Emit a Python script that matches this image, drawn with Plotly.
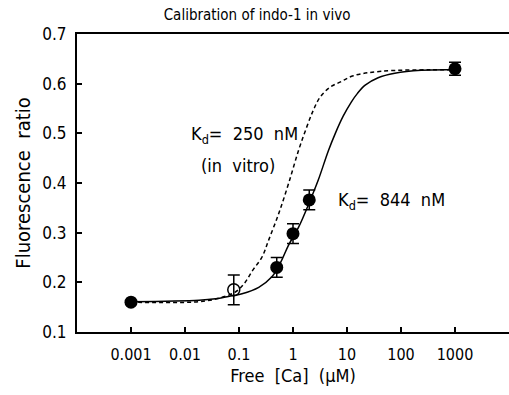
import plotly.graph_objects as go

# Data
ca_points = [0.001, 0.5, 1.0, 2.0, 1000.0]          # free Ca (uM), filled circles
ratio_points = [0.160, 0.230, 0.298, 0.366, 0.630]
ratio_err = [0.0, 0.020, 0.020, 0.020, 0.013]

ca_open = [0.08]                                     # open circle
ratio_open = [0.185]
err_open = [0.030]

# In-vivo fit (solid, Kd = 844 nM)
ca_fit_vivo = [0.001, 0.0182, 0.0369, 0.0746, 0.114, 0.232, 0.407, 0.589, 0.828,
               1.27, 2.08, 2.96, 4.52, 6.08, 8.54, 12.0, 15.5, 21.7, 37.7, 76.7,
               237.0, 1000.0]
ratio_fit_vivo = [0.161, 0.164, 0.167, 0.173, 0.177, 0.190, 0.211, 0.240, 0.275,
                  0.311, 0.365, 0.407, 0.465, 0.500, 0.535, 0.563, 0.580, 0.597,
                  0.612, 0.621, 0.627, 0.628]

# In-vitro curve (dashed, Kd = 250 nM)
ca_fit_vitro = [0.001, 0.0182, 0.0425, 0.0838, 0.122, 0.179, 0.267, 0.354, 0.542,
                0.828, 1.27, 1.80, 2.39, 3.18, 4.86, 7.43, 13.1, 42.9, 358.0, 1000.0]
ratio_fit_vitro = [0.160, 0.161, 0.168, 0.180, 0.196, 0.224, 0.251, 0.285, 0.338,
                   0.399, 0.466, 0.513, 0.547, 0.573, 0.593, 0.603, 0.616, 0.625,
                   0.628, 0.628]

x_tickvals = [0.001, 0.01, 0.1, 1, 10, 100, 1000]
x_ticktext = ["0.001", "0.01", "0.1", "1", "10", "100", "1000"]
y_tickvals = [0.1, 0.2, 0.3, 0.4, 0.5, 0.6, 0.7]
y_ticktext = ["0.1", "0.2", "0.3", "0.4", "0.5", "0.6", "0.7"]

FONT = "Liberation Sans Narrow, Arial Narrow, DejaVu Sans Condensed, sans-serif"

fig = go.Figure()

fig.add_trace(go.Scatter(x=ca_fit_vitro, y=ratio_fit_vitro, mode="lines",
                         line=dict(color="black", width=1.5, dash="4px,3px", shape="spline"),
                         hoverinfo="skip", showlegend=False))
fig.add_trace(go.Scatter(x=ca_fit_vivo, y=ratio_fit_vivo, mode="lines",
                         line=dict(color="black", width=1.5, shape="spline"),
                         hoverinfo="skip", showlegend=False))

fig.add_trace(go.Scatter(x=ca_open, y=ratio_open, mode="markers",
                         marker=dict(symbol="circle-open", size=12, color="black",
                                     line=dict(width=1.5)),
                         error_y=dict(type="data", array=err_open, color="black",
                                      thickness=1.5, width=6),
                         showlegend=False))
fig.add_trace(go.Scatter(x=ca_points, y=ratio_points, mode="markers",
                         marker=dict(symbol="circle", size=13, color="black"),
                         error_y=dict(type="data", array=ratio_err, color="black",
                                      thickness=1.5, width=6),
                         showlegend=False))

fig.add_annotation(x=-1.93, y=0.496, xref="x", yref="y", xanchor="left", yanchor="middle",
                   text="K<sub>d</sub>=  250  nM", showarrow=False,
                   font=dict(size=18, color="black", family=FONT))
fig.add_annotation(x=-1.01, y=0.436, xref="x", yref="y", xanchor="center", yanchor="middle",
                   text="(in  vitro)", showarrow=False,
                   font=dict(size=18, color="black", family=FONT))
fig.add_annotation(x=0.80, y=0.363, xref="x", yref="y", xanchor="left", yanchor="middle",
                   text="K<sub>d</sub>=  844  nM", showarrow=False,
                   font=dict(size=18, color="black", family=FONT))

fig.update_layout(
    width=509, height=395,
    margin=dict(l=77, r=0, t=34, b=63),
    paper_bgcolor="white", plot_bgcolor="white",
    font=dict(family=FONT, size=16, color="black"),
    title=dict(text="Calibration of indo-1 in vivo", x=0.505, xanchor="center",
               y=1 - 15 / 395, yanchor="middle", yref="container",
               font=dict(size=15, family=FONT, color="black")),
    xaxis=dict(type="log", range=[-4, 4], tickvals=x_tickvals, ticktext=x_ticktext,
               ticks="inside", ticklen=5, tickwidth=1.5, tickcolor="black",
               showline=True, linecolor="black", linewidth=2, mirror=True,
               showgrid=False, zeroline=False, ticklabelstandoff=7,
               tickfont=dict(size=16, family=FONT),
               title=dict(text="Free  [Ca]  (μM)", standoff=6,
                          font=dict(size=18, family=FONT))),
    yaxis=dict(range=[0.1, 0.7], tickvals=y_tickvals, ticktext=y_ticktext,
               ticks="inside", ticklen=5, tickwidth=1.5, tickcolor="black",
               showline=True, linecolor="black", linewidth=2, mirror=False,
               showgrid=False, zeroline=False, ticklabelstandoff=5,
               tickfont=dict(size=17, family=FONT),
               title=dict(text="Fluorescence  ratio", standoff=6,
                          font=dict(size=20, family=FONT))),
)

fig.write_html("out.html")
